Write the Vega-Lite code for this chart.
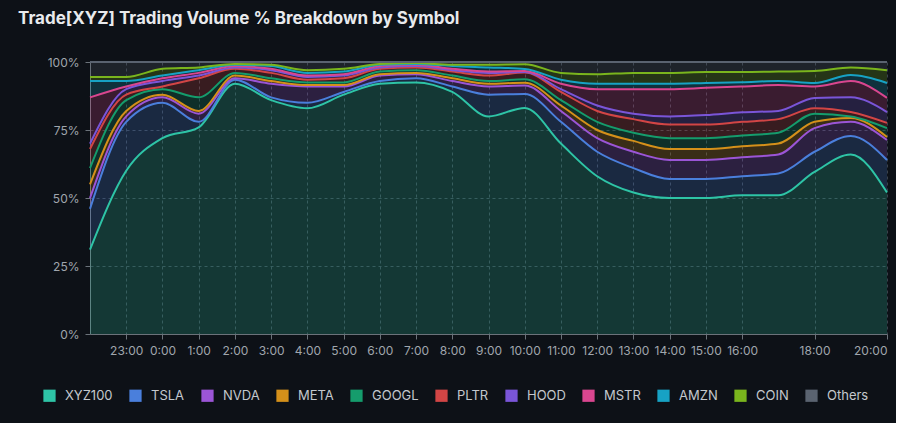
{
  "$schema": "https://vega.github.io/schema/vega-lite/v6.json",
  "width": 797,
  "height": 272,
  "padding": {"left": 18, "top": 10, "right": 5, "bottom": 20},
  "background": "#0d1117",
  "title": {
    "text": "Trade[XYZ] Trading Volume % Breakdown by Symbol",
    "anchor": "start",
    "frame": "bounds",
    "dx": -25,
    "offset": 28,
    "color": "#e8eaed",
    "font": "Inter",
    "fontSize": 17,
    "fontWeight": "bold"
  },
  "data": {
    "values": [
      {"t": "2025-12-03T22:00", "XYZ100": 31, "TSLA": 15, "NVDA": 4, "META": 5, "GOOGL": 6, "PLTR": 7, "HOOD": 2, "MSTR": 17, "AMZN": 6, "COIN": 1.5, "Others": 5.5},
      {"t": "2025-12-03T23:00", "XYZ100": 60, "TSLA": 18, "NVDA": 2, "META": 2, "GOOGL": 4, "PLTR": 2, "HOOD": 2, "MSTR": 1, "AMZN": 2, "COIN": 1.5, "Others": 5.5},
      {"t": "2025-12-04T00:00", "XYZ100": 72, "TSLA": 13, "NVDA": 2, "META": 1, "GOOGL": 2, "PLTR": 1, "HOOD": 2, "MSTR": 1, "AMZN": 1, "COIN": 2.5, "Others": 2.5},
      {"t": "2025-12-04T01:00", "XYZ100": 76, "TSLA": 2, "NVDA": 3, "META": 1, "GOOGL": 5, "PLTR": 7, "HOOD": 1, "MSTR": 1, "AMZN": 1, "COIN": 1, "Others": 2},
      {"t": "2025-12-04T02:00", "XYZ100": 92, "TSLA": 1.5, "NVDA": 0.5, "META": 1, "GOOGL": 1, "PLTR": 1.5, "HOOD": 0.5, "MSTR": 0.5, "AMZN": 0.5, "COIN": 0.3, "Others": 0.7},
      {"t": "2025-12-04T03:00", "XYZ100": 86, "TSLA": 1, "NVDA": 5, "META": 1, "GOOGL": 1, "PLTR": 2, "HOOD": 1, "MSTR": 0.5, "AMZN": 1, "COIN": 0.5, "Others": 1},
      {"t": "2025-12-04T04:00", "XYZ100": 83, "TSLA": 2, "NVDA": 6, "META": 0.5, "GOOGL": 1, "PLTR": 1, "HOOD": 1, "MSTR": 0.5, "AMZN": 1, "COIN": 1, "Others": 3},
      {"t": "2025-12-04T05:00", "XYZ100": 88, "TSLA": 1, "NVDA": 2, "META": 0.5, "GOOGL": 1, "PLTR": 1.5, "HOOD": 1, "MSTR": 0.5, "AMZN": 1, "COIN": 1, "Others": 2.5},
      {"t": "2025-12-04T06:00", "XYZ100": 92, "TSLA": 1, "NVDA": 2, "META": 0.5, "GOOGL": 1, "PLTR": 1, "HOOD": 0.5, "MSTR": 0.5, "AMZN": 0.5, "COIN": 0.3, "Others": 0.7},
      {"t": "2025-12-04T07:00", "XYZ100": 92.5, "TSLA": 1.5, "NVDA": 1.5, "META": 0.5, "GOOGL": 1, "PLTR": 1, "HOOD": 0.5, "MSTR": 0.5, "AMZN": 0.3, "COIN": 0.3, "Others": 0.4},
      {"t": "2025-12-04T08:00", "XYZ100": 89, "TSLA": 2, "NVDA": 2, "META": 1, "GOOGL": 1, "PLTR": 1.5, "HOOD": 0.5, "MSTR": 0.5, "AMZN": 1, "COIN": 0.5, "Others": 1},
      {"t": "2025-12-04T09:00", "XYZ100": 80, "TSLA": 8, "NVDA": 3, "META": 1, "GOOGL": 1, "PLTR": 2, "HOOD": 1, "MSTR": 0.5, "AMZN": 1.5, "COIN": 1, "Others": 1},
      {"t": "2025-12-04T10:00", "XYZ100": 83.11, "TSLA": 5.09, "NVDA": 3.14, "META": 1.04, "GOOGL": 1.28, "PLTR": 2.44, "HOOD": 0.26, "MSTR": 0.28, "AMZN": 0.81, "COIN": 1.68, "Others": 0.86},
      {"t": "2025-12-04T11:00", "XYZ100": 70, "TSLA": 8, "NVDA": 4, "META": 2, "GOOGL": 2, "PLTR": 3, "HOOD": 1, "MSTR": 2, "AMZN": 1.5, "COIN": 2.5, "Others": 4},
      {"t": "2025-12-04T12:00", "XYZ100": 58, "TSLA": 9, "NVDA": 5, "META": 3, "GOOGL": 3, "PLTR": 4, "HOOD": 2, "MSTR": 6, "AMZN": 2, "COIN": 3.5, "Others": 4.5},
      {"t": "2025-12-04T13:00", "XYZ100": 52, "TSLA": 9, "NVDA": 6, "META": 4, "GOOGL": 3, "PLTR": 5, "HOOD": 2, "MSTR": 9, "AMZN": 2, "COIN": 4, "Others": 4},
      {"t": "2025-12-04T14:00", "XYZ100": 50, "TSLA": 7, "NVDA": 7, "META": 4, "GOOGL": 4, "PLTR": 5, "HOOD": 3, "MSTR": 10, "AMZN": 2, "COIN": 4, "Others": 4},
      {"t": "2025-12-04T15:00", "XYZ100": 50, "TSLA": 7, "NVDA": 7, "META": 4, "GOOGL": 4, "PLTR": 5, "HOOD": 3.5, "MSTR": 10, "AMZN": 1.8, "COIN": 4, "Others": 3.7},
      {"t": "2025-12-04T16:00", "XYZ100": 51, "TSLA": 7, "NVDA": 7, "META": 4, "GOOGL": 4, "PLTR": 5, "HOOD": 3.5, "MSTR": 9.5, "AMZN": 1.6, "COIN": 3.7, "Others": 3.7},
      {"t": "2025-12-04T17:00", "XYZ100": 51, "TSLA": 8, "NVDA": 7, "META": 4, "GOOGL": 4, "PLTR": 5, "HOOD": 3, "MSTR": 9.5, "AMZN": 1.5, "COIN": 3.5, "Others": 3.5},
      {"t": "2025-12-04T18:00", "XYZ100": 59.6, "TSLA": 7.4, "NVDA": 8.7, "META": 2.3, "GOOGL": 3, "PLTR": 2, "HOOD": 3.8, "MSTR": 4.2, "AMZN": 1.3, "COIN": 4.4, "Others": 3.3},
      {"t": "2025-12-04T19:00", "XYZ100": 66, "TSLA": 6.8, "NVDA": 5.2, "META": 1.4, "GOOGL": 0.6, "PLTR": 1.6, "HOOD": 5.4, "MSTR": 6, "AMZN": 2.2, "COIN": 2.8, "Others": 2},
      {"t": "2025-12-04T20:00", "XYZ100": 52, "TSLA": 12, "NVDA": 7.3, "META": 1.1, "GOOGL": 3.3, "PLTR": 1.9, "HOOD": 4, "MSTR": 5.2, "AMZN": 5.5, "COIN": 4.7, "Others": 3}
    ]
  },
  "transform": [
    {"fold": ["XYZ100", "TSLA", "NVDA", "META", "GOOGL", "PLTR", "HOOD", "MSTR", "AMZN", "COIN", "Others"], "as": ["symbol", "share"]},
    {"calculate": "indexof(['XYZ100','TSLA','NVDA','META','GOOGL','PLTR','HOOD','MSTR','AMZN','COIN','Others'], datum.symbol)", "as": "order"}
  ],
  "encoding": {
    "x": {
      "field": "t",
      "type": "temporal",
      "title": null,
      "scale": {"nice": false},
      "axis": {
        "values": ["2025-12-03T23:00", "2025-12-04T00:00", "2025-12-04T01:00", "2025-12-04T02:00", "2025-12-04T03:00", "2025-12-04T04:00", "2025-12-04T05:00", "2025-12-04T06:00", "2025-12-04T07:00", "2025-12-04T08:00", "2025-12-04T09:00", "2025-12-04T10:00", "2025-12-04T11:00", "2025-12-04T12:00", "2025-12-04T13:00", "2025-12-04T14:00", "2025-12-04T15:00", "2025-12-04T16:00", "2025-12-04T18:00", "2025-12-04T20:00"],
        "format": "%-H:%M",
        "labelOverlap": false,
        "labelBound": false
      }
    },
    "y": {
      "field": "share",
      "type": "quantitative",
      "stack": "normalize",
      "title": null,
      "axis": {"values": [0, 0.25, 0.5, 0.75, 1], "format": ".0%"}
    },
    "order": {"field": "order", "type": "quantitative"},
    "color": {
      "field": "symbol",
      "type": "nominal",
      "sort": ["XYZ100", "TSLA", "NVDA", "META", "GOOGL", "PLTR", "HOOD", "MSTR", "AMZN", "COIN", "Others"],
      "scale": {
        "domain": ["XYZ100", "TSLA", "NVDA", "META", "GOOGL", "PLTR", "HOOD", "MSTR", "AMZN", "COIN", "Others"],
        "range": ["#2ec4a6", "#4a7fdc", "#9b55d6", "#d4901a", "#159c6c", "#d24545", "#7a55d8", "#d9468f", "#17a2c4", "#7ab51d", "#5a6370"]
      },
      "legend": {
        "title": null,
        "orient": "none",
        "direction": "horizontal",
        "legendX": -47,
        "legendY": 327,
        "symbolType": "square",
        "symbolSize": 150,
        "symbolOpacity": 1,
        "symbolStrokeWidth": 0,
        "labelColor": "#c4c8cd",
        "labelFontSize": 13,
        "labelFont": "Inter",
        "columnPadding": 16,
        "labelOffset": 9
      }
    }
  },
  "layer": [
    {
      "mark": {"type": "area", "interpolate": "monotone", "fillOpacity": 0.22, "line": {"strokeWidth": 2}}
    },
    {
      "transform": [{"filter": "datum.t == '2025-12-04T10:00'"}],
      "mark": {"type": "point", "filled": true, "size": 60, "opacity": 1, "stroke": "#e8eaed", "strokeWidth": 2}
    }
  ],
  "config": {
    "view": {"stroke": null},
    "axis": {
      "labelColor": "#a0a6ad",
      "labelFont": "Inter",
      "labelFontSize": 12,
      "gridColor": "#3a424c",
      "gridDash": [3, 3],
      "domainColor": "#6b727a",
      "tickColor": "#6b727a",
      "labelPadding": 6
    },
    "axisY": {"domain": true, "ticks": true, "tickSize": 5},
    "axisX": {"tickSize": 5}
  }
}
